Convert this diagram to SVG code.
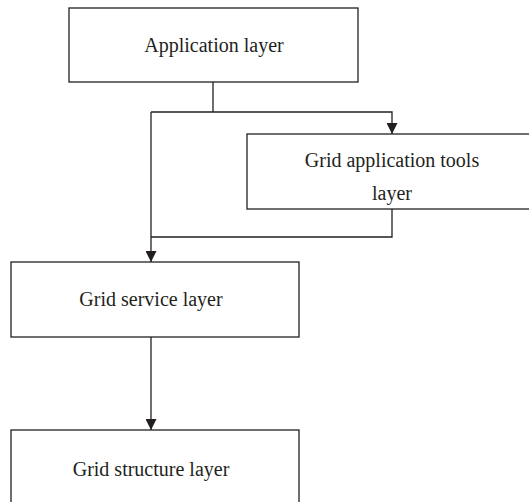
<svg xmlns="http://www.w3.org/2000/svg" width="529" height="502" viewBox="0 0 529 502">
<style>
.box{fill:#fff;stroke:#231f20;stroke-width:1.3}
.t{font-family:"Liberation Serif",serif;font-size:20px;fill:#231f20;text-anchor:middle}
.c{fill:none;stroke:#231f20;stroke-width:1.3}
</style>
<defs>
<marker id="ah" markerWidth="12" markerHeight="11" refX="11" refY="5.5" orient="auto" markerUnits="userSpaceOnUse">
<path d="M0,0 L11,5.5 L0,11 Z" fill="#231f20"/>
</marker>
</defs>
<rect width="529" height="502" fill="#fff"/>
<g id="connectors">
<path class="c" d="M213,82 V112"/>
<path class="c" d="M151,112 H392 V134" marker-end="url(#ah)"/>
<path class="c" d="M392,209 V237 H151"/>
<path class="c" d="M151,112 V262" marker-end="url(#ah)"/>
<path class="c" d="M151,337 V430" marker-end="url(#ah)"/>
</g>
<g id="app">
<rect class="box" x="69" y="8" width="289" height="74"/>
<text class="t" x="214" y="52">Application layer</text>
</g>
<g id="tools">
<rect class="box" x="247" y="134" width="290" height="75"/>
<text class="t" x="392" y="167">Grid application tools</text>
<text class="t" x="392" y="200">layer</text>
</g>
<g id="service">
<rect class="box" x="11" y="262" width="288" height="75"/>
<text class="t" x="151" y="306">Grid service layer</text>
</g>
<g id="structure">
<rect class="box" x="11" y="430" width="288" height="80"/>
<text class="t" x="151" y="476">Grid structure layer</text>
</g>
</svg>
